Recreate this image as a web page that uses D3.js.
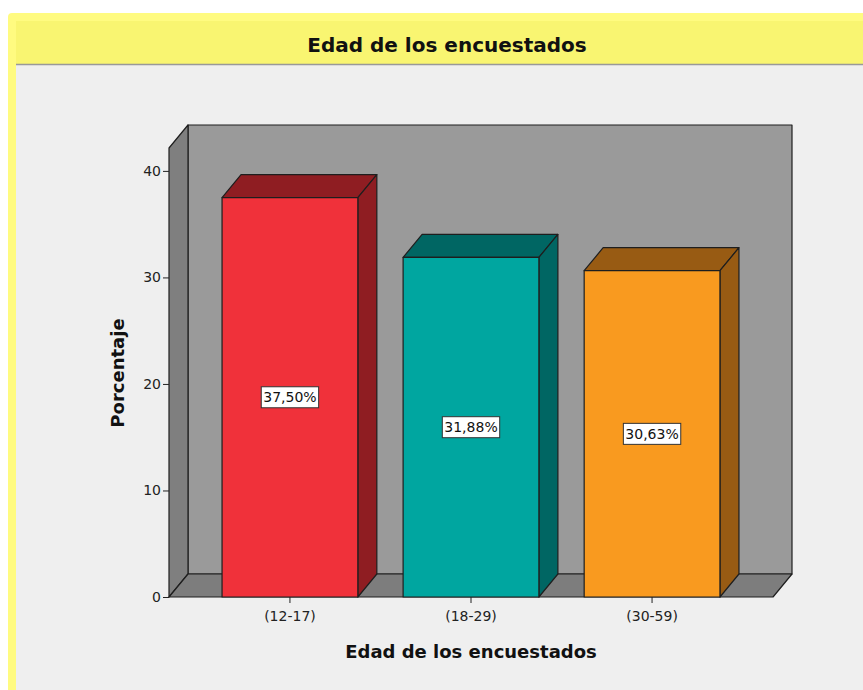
<!DOCTYPE html>
<meta charset="utf-8">
<style>
body { margin: 0; background: #fff; }
svg text { font-family: "DejaVu Sans", Verdana, sans-serif; fill: #111; }
.axis text { font-size: 14px; fill: #222; }
.axis path, .axis line { stroke: #222; }
</style>
<body>
<script src="https://cdn.jsdelivr.net/npm/d3@7"></script>
<script>

// data
var categories = ["(12-17)", "(18-29)", "(30-59)"];
var percents = [37.50, 31.88, 30.63];
var yTicks = [0, 10, 20, 30, 40];
var frontColors = ["#f0313a", "#00a6a0", "#f99a1f"];
var topColors = ["#8f1d22", "#006663", "#985b13"];

var width = 863, height = 690;
var dx = 19, dy = 23;   // 3d depth offset

var svg = d3.select("body").append("svg")
    .attr("width", width)
    .attr("height", height);

// frame
svg.append("rect").attr("x", 8).attr("y", 13).attr("width", 900).attr("height", 700)
    .attr("rx", 4).attr("fill", "#fffb80");
svg.append("rect").attr("x", 16).attr("y", 21).attr("width", 900).attr("height", 44)
    .attr("fill", "#f9f571");
svg.append("rect").attr("x", 16).attr("y", 65).attr("width", 900).attr("height", 700)
    .attr("fill", "#efefef");
svg.append("line").attr("x1", 16).attr("x2", 863).attr("y1", 64.5).attr("y2", 64.5)
    .attr("stroke", "#999").attr("stroke-width", 1.5);

svg.append("text").attr("x", 447).attr("y", 52).attr("text-anchor", "middle")
    .style("font-size", "20px").style("font-weight", "bold")
    .text("Edad de los encuestados");

var x0 = 169, x1 = 773;
var y = d3.scaleLinear().domain([0, 42.15]).range([597, 148]);
var x = d3.scaleBand().domain(categories).range([x0, x1])
    .paddingInner(0.25).paddingOuter(0.293);

var edge = { stroke: "#1e1e1e", "stroke-width": 1.2, "stroke-linejoin": "round" };
function poly(pts, fill) {
  var p = svg.append("polygon")
      .attr("points", pts.map(function(d) { return d.join(","); }).join(" "))
      .attr("fill", fill);
  for (var k in edge) p.attr(k, edge[k]);
  return p;
}

var yb = y(0), yt = y.range()[1];
// back wall, left wall, floor
poly([[x0 + dx, yt - dy], [x1 + dx, yt - dy], [x1 + dx, yb - dy], [x0 + dx, yb - dy]], "#9a9a9a");
poly([[x0, yt], [x0 + dx, yt - dy], [x0 + dx, yb - dy], [x0, yb]], "#7f7f7f");
poly([[x0, yb], [x0 + dx, yb - dy], [x1 + dx, yb - dy], [x1, yb]], "#7d7d7d");

// bars
categories.forEach(function(c, i) {
  var bx0 = x(c), bx1 = x(c) + x.bandwidth(), by = y(percents[i]);
  poly([[bx0, by], [bx0 + dx, by - dy], [bx1 + dx, by - dy], [bx1, by]], topColors[i]);
  poly([[bx1, by], [bx1 + dx, by - dy], [bx1 + dx, yb - dy], [bx1, yb]], topColors[i]);
  poly([[bx0, by], [bx1, by], [bx1, yb], [bx0, yb]], frontColors[i]);

  var cx = (bx0 + bx1) / 2, cy = y(percents[i] / 2);
  var label = percents[i].toFixed(2).replace(".", ",") + "%";
  var t = svg.append("text").attr("x", cx).attr("y", cy + 5)
      .attr("text-anchor", "middle").style("font-size", "14px").text(label);
  var bb = t.node().getBBox();
  svg.insert("rect", function() { return t.node(); })
      .attr("x", bb.x - 2).attr("y", cy - 10.5)
      .attr("width", bb.width + 4).attr("height", 21)
      .attr("fill", "#fff").attr("stroke", "#333").attr("stroke-width", 1);
});

// axes
svg.append("g").attr("class", "axis")
    .attr("transform", "translate(" + x0 + ",0)")
    .call(d3.axisLeft(y).tickValues(yTicks).tickSize(6).tickPadding(2).tickSizeOuter(0))
    .call(function(g) { g.select(".domain").remove(); });

svg.append("g").attr("class", "axis")
    .attr("transform", "translate(0," + yb + ")")
    .call(d3.axisBottom(x).tickSize(6).tickPadding(8).tickSizeOuter(0))
    .call(function(g) { g.select(".domain").remove(); });

svg.append("text").attr("x", 471).attr("y", 658).attr("text-anchor", "middle")
    .style("font-size", "18px").style("font-weight", "bold")
    .text("Edad de los encuestados");

svg.append("text").attr("transform", "translate(124,373) rotate(-90)")
    .attr("text-anchor", "middle")
    .style("font-size", "18px").style("font-weight", "bold")
    .text("Porcentaje");

</script>
